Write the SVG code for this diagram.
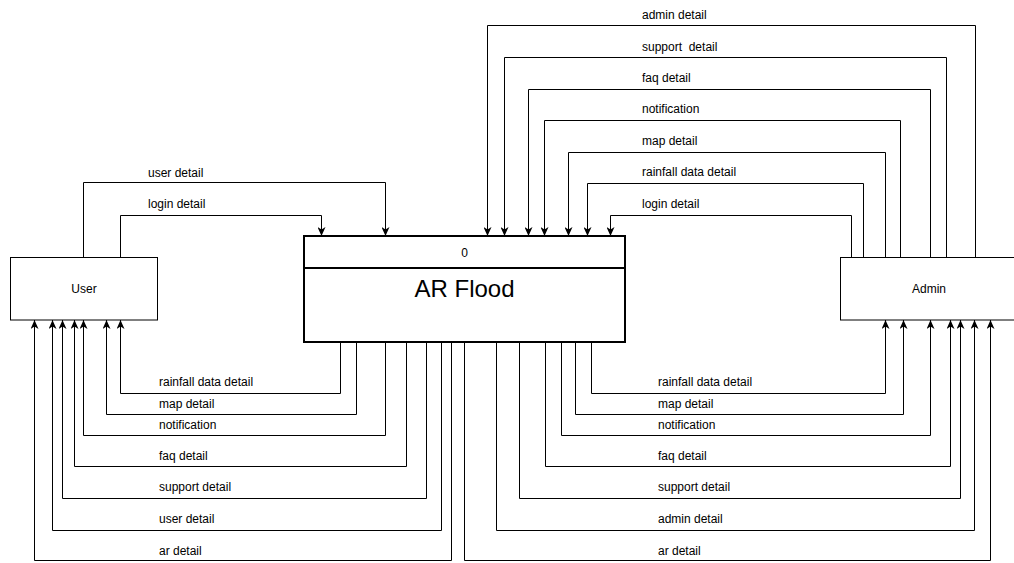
<svg xmlns="http://www.w3.org/2000/svg" width="1014" height="563" viewBox="0 0 1014 563">
<defs>
<marker id="arr" viewBox="0 0 9 8" refX="9" refY="4" markerWidth="9" markerHeight="8" markerUnits="userSpaceOnUse" orient="auto">
<path d="M0,0 L9,4 L0,8 L2.5,4 z" fill="#000"/>
</marker>
<style>
.box{fill:#fff;stroke:#000;stroke-width:1}
.main{fill:#fff;stroke:#000;stroke-width:2}
.c{fill:none;stroke:#000;stroke-width:1;marker-end:url(#arr)}
text{font-family:"Liberation Sans",Arial,sans-serif;fill:#000}
.lbl{font-size:12px;white-space:pre}
.nm{font-size:12px;text-anchor:middle}
</style>
</defs>
<rect width="1014" height="563" fill="#fff"/>
<g id="connectors">
<path class="c" d="M975.5,257.5 V25.5 H487.5 V236"/>
<path class="c" d="M946.5,257.5 V57.5 H504.5 V236"/>
<path class="c" d="M930.5,257.5 V89.5 H528.5 V236"/>
<path class="c" d="M900.5,257.5 V120.5 H544.5 V236"/>
<path class="c" d="M885.5,257.5 V152.5 H568.5 V236"/>
<path class="c" d="M863.5,257.5 V183.5 H587.5 V236"/>
<path class="c" d="M851.5,257.5 V215.5 H610.5 V236"/>
<path class="c" d="M83.5,257.5 V182.5 H385.5 V236"/>
<path class="c" d="M120.5,257.5 V215.5 H321.5 V236"/>
<path class="c" d="M340.5,342 V393.5 H120.5 V320"/>
<path class="c" d="M356.5,342 V414.5 H106.5 V320"/>
<path class="c" d="M385.5,342 V435.5 H83.5 V320"/>
<path class="c" d="M406.5,342 V466.5 H74.5 V320"/>
<path class="c" d="M426.5,342 V498.5 H62.5 V320"/>
<path class="c" d="M441.5,342 V530.5 H52.5 V320"/>
<path class="c" d="M451.5,342 V560.5 H34.5 V320"/>
<path class="c" d="M591.5,342 V393.5 H885.5 V320"/>
<path class="c" d="M575.5,342 V414.5 H903.5 V320"/>
<path class="c" d="M561.5,342 V435.5 H930.5 V320"/>
<path class="c" d="M545.5,342 V466.5 H950.5 V320"/>
<path class="c" d="M519.5,342 V498.5 H960.5 V320"/>
<path class="c" d="M496.5,342 V530.5 H974.5 V320"/>
<path class="c" d="M464.5,342 V560.5 H990.5 V320"/>
</g>
<g id="labels">
<text class="lbl" x="642" y="19">admin detail</text>
<text class="lbl" x="642" y="51">support  detail</text>
<text class="lbl" x="642" y="82">faq detail</text>
<text class="lbl" x="642" y="113">notification</text>
<text class="lbl" x="642" y="145">map detail</text>
<text class="lbl" x="642" y="176">rainfall data detail</text>
<text class="lbl" x="642" y="208">login detail</text>
<text class="lbl" x="148" y="177">user detail</text>
<text class="lbl" x="148" y="208">login detail</text>
<text class="lbl" x="159" y="386">rainfall data detail</text>
<text class="lbl" x="159" y="408">map detail</text>
<text class="lbl" x="159" y="429">notification</text>
<text class="lbl" x="159" y="460">faq detail</text>
<text class="lbl" x="159" y="491">support detail</text>
<text class="lbl" x="159" y="523">user detail</text>
<text class="lbl" x="159" y="555">ar detail</text>
<text class="lbl" x="658" y="386">rainfall data detail</text>
<text class="lbl" x="658" y="408">map detail</text>
<text class="lbl" x="658" y="429">notification</text>
<text class="lbl" x="658" y="460">faq detail</text>
<text class="lbl" x="658" y="491">support detail</text>
<text class="lbl" x="658" y="523">admin detail</text>
<text class="lbl" x="658" y="555">ar detail</text>
</g>
<g id="user">
<rect class="box" x="10.5" y="257.5" width="147" height="62.5"/>
<text class="nm" x="84" y="293">User</text>
</g>
<g id="admin">
<rect class="box" x="840.5" y="257.5" width="178" height="62.5"/>
<text class="nm" x="929" y="293">Admin</text>
</g>
<g id="arflood">
<rect class="main" x="304" y="236" width="321" height="106"/>
<line x1="304" y1="268" x2="625" y2="268" stroke="#000" stroke-width="2"/>
<text class="nm" x="464.5" y="257">0</text>
<text x="464.5" y="297" font-size="24" text-anchor="middle">AR Flood</text>
</g>
</svg>
